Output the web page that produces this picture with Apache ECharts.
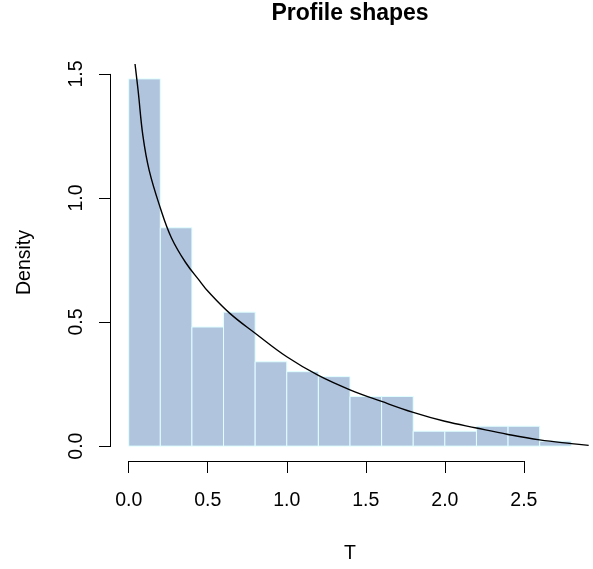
<!DOCTYPE html>
<html>
<head>
<meta charset="utf-8">
<script src="https://cdn.jsdelivr.net/npm/echarts@6/dist/echarts.min.js"></script>
<style>
  html, body { margin: 0; padding: 0; background: #fff; }
  #main { width: 593px; height: 569px; }
</style>
</head>
<body>
<div id="main"></div>
<script>
// histogram breaks and densities
var breaks = [0, 0.2, 0.4, 0.6, 0.8, 1.0, 1.2, 1.4, 1.6, 1.8, 2.0, 2.2, 2.4, 2.6, 2.8];
var density = [1.48, 0.88, 0.48, 0.54, 0.34, 0.30, 0.28, 0.20, 0.20, 0.06, 0.06, 0.08, 0.08, 0.02];

// fitted curve
var curveX = [0.04, 0.06, 0.09, 0.13, 0.2, 0.27, 0.36, 0.45, 0.5, 0.64, 0.8, 1.0, 1.2, 1.4, 1.6, 1.8, 2.0, 2.2, 2.4, 2.6, 2.8, 2.91];
var curveY = [1.54, 1.43, 1.25, 1.11, 0.96, 0.84, 0.74, 0.665, 0.625, 0.535, 0.455, 0.36, 0.285, 0.227, 0.18, 0.136, 0.10, 0.073, 0.047, 0.025, 0.01, 0.003];

// axis ticks
var xTicks = [0, 0.5, 1.0, 1.5, 2.0, 2.5];
var yTicks = [0, 0.5, 1.0, 1.5];

var FONT = 'Liberation Sans, Arial, Helvetica, sans-serif';

var bars = [];
for (var i = 0; i < density.length; i++) {
  bars.push([breaks[i], breaks[i + 1], density[i]]);
}
var curve = [];
for (var j = 0; j < curveX.length; j++) {
  curve.push([curveX[j], curveY[j]]);
}

var chart = echarts.init(document.getElementById('main'), null, { renderer: 'canvas' });

var option = {
  animation: false,
  backgroundColor: '#ffffff',
  graphic: [{
    type: 'text',
    x: 350,
    y: 14,
    style: {
      text: 'Profile shapes',
      font: 'bold 23px ' + FONT,
      fill: '#000',
      textAlign: 'center',
      textVerticalAlign: 'middle'
    }
  }],
  grid: { left: 111, right: 4, top: 64, bottom: 104 },
  xAxis: {
    type: 'value',
    min: -0.112,
    max: 2.912,
    name: 'T',
    nameLocation: 'middle',
    nameGap: 83,
    nameTextStyle: { color: '#000', fontSize: 19.5, fontFamily: FONT },
    axisLine: { show: false, onZero: false },
    splitLine: { show: false },
    axisTick: {
      show: true,
      customValues: xTicks,
      length: 12,
      lineStyle: { color: '#000', width: 1 }
    },
    axisLabel: {
      customValues: xTicks,
      margin: 30,
      color: '#000',
      fontSize: 19.5,
      fontFamily: FONT,
      formatter: function (v) { return v.toFixed(1); }
    }
  },
  yAxis: {
    type: 'value',
    min: -0.06,
    max: 1.54,
    name: 'Density',
    nameLocation: 'middle',
    nameGap: 76,
    nameTextStyle: { color: '#000', fontSize: 19.5, fontFamily: FONT },
    axisLine: { show: false, onZero: false },
    splitLine: { show: false },
    axisTick: {
      show: true,
      customValues: yTicks,
      length: 12,
      lineStyle: { color: '#000', width: 1 }
    },
    axisLabel: {
      customValues: yTicks,
      rotate: 90,
      margin: 24,
      color: '#000',
      fontSize: 19.5,
      fontFamily: FONT,
      formatter: function (v) { return v.toFixed(1); }
    }
  },
  series: [
    {
      // histogram bars
      type: 'custom',
      data: bars,
      renderItem: function (params, api) {
        var p0 = api.coord([api.value(0), api.value(2)]);
        var p1 = api.coord([api.value(1), 0]);
        return {
          type: 'rect',
          shape: { x: p0[0], y: p0[1], width: p1[0] - p0[0], height: p1[1] - p0[1] },
          style: { fill: '#B0C4DE', stroke: '#E0FFFF', lineWidth: 1 }
        };
      }
    },
    {
      // R style axis lines from first to last tick
      type: 'custom',
      clip: false,
      data: [[0, 0]],
      renderItem: function (params, api) {
        var xa = api.coord([xTicks[0], -0.06]);
        var xb = api.coord([xTicks[xTicks.length - 1], -0.06]);
        var ya = api.coord([-0.112, yTicks[0]]);
        var yb = api.coord([-0.112, yTicks[yTicks.length - 1]]);
        return {
          type: 'group',
          children: [
            { type: 'line', shape: { x1: xa[0], y1: Math.round(xa[1]) + 0.5, x2: xb[0], y2: Math.round(xb[1]) + 0.5 }, style: { stroke: '#000', lineWidth: 1 } },
            { type: 'line', shape: { x1: Math.round(ya[0]) - 0.5, y1: ya[1], x2: Math.round(yb[0]) - 0.5, y2: yb[1] }, style: { stroke: '#000', lineWidth: 1 } }
          ]
        };
      }
    },
    {
      type: 'line',
      data: curve,
      smooth: 0.4,
      showSymbol: false,
      clip: true,
      lineStyle: { color: '#000', width: 1.4 }
    }
  ]
};

chart.setOption(option);
</script>
</body>
</html>
